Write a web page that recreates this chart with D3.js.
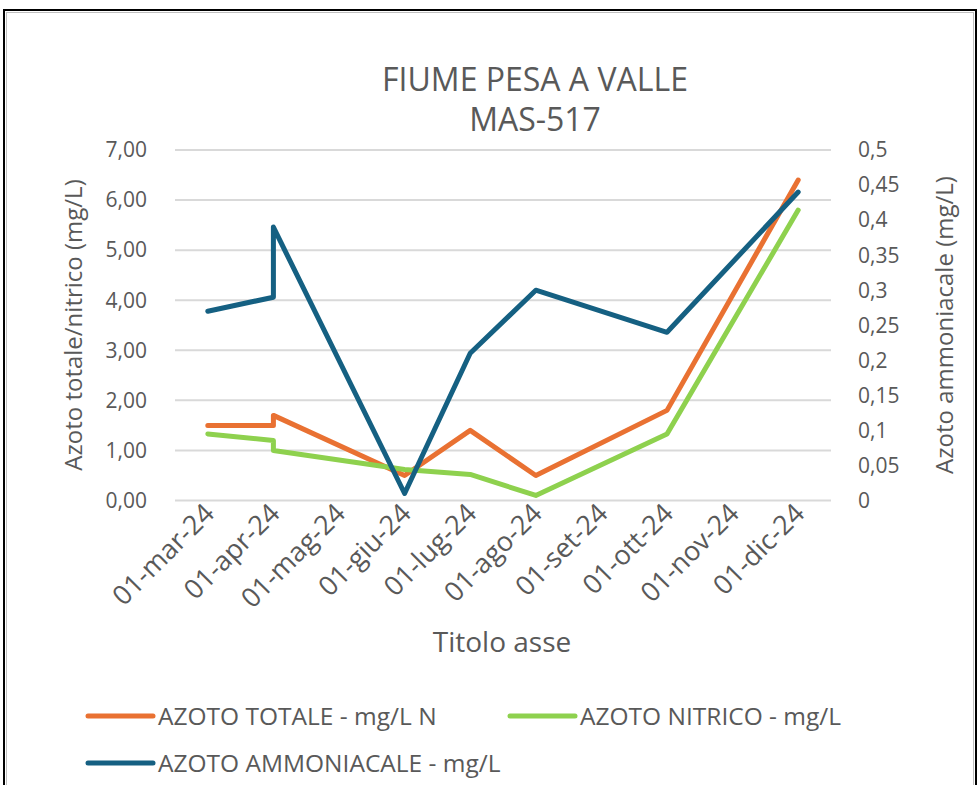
<!DOCTYPE html>
<html>
<head>
<meta charset="utf-8">
<script src="https://cdn.jsdelivr.net/npm/d3@7"></script>
<style>
  body { margin: 0; background: #fff; }
  text { font-family: "Open Sans", "Liberation Sans", sans-serif; fill: #595959; }
</style>
</head>
<body>
<svg id="chart" width="979" height="785"></svg>
<script>
// month categories on the x axis (Excel date axis, base unit = months)
const months = ["01-mar-24", "01-apr-24", "01-mag-24", "01-giu-24", "01-lug-24",
                "01-ago-24", "01-set-24", "01-ott-24", "01-nov-24", "01-dic-24"];
// sampling dates (two samples in April)
const sampleMonths = ["01-mar-24", "01-apr-24", "01-apr-24", "01-giu-24",
                      "01-lug-24", "01-ago-24", "01-ott-24", "01-dic-24"];
const azotoTotale = [1.50, 1.50, 1.70, 0.50, 1.40, 0.50, 1.80, 6.40];
const azotoNitrico = [1.33, 1.20, 1.00, 0.62, 0.52, 0.10, 1.33, 5.80];
const azotoAmmoniacale = [0.27, 0.29, 0.39, 0.01, 0.21, 0.30, 0.24, 0.44];
const leftTicks = [0, 1, 2, 3, 4, 5, 6, 7];
const rightTicks = [0, 0.05, 0.1, 0.15, 0.2, 0.25, 0.3, 0.35, 0.4, 0.45, 0.5];

const svg = d3.select("#chart");
const plot = { left: 175, right: 831, top: 150, bottom: 500.5 };

// frame
svg.append("rect").attr("x", 4).attr("y", 10).attr("width", 972).attr("height", 790)
  .style("fill", "none").style("stroke", "#000").style("stroke-width", 2);
svg.append("rect").attr("x", 6.5).attr("y", 12.5).attr("width", 967).attr("height", 790)
  .style("fill", "none").style("stroke", "#bfbfbf").style("stroke-width", 1);

let xScale = d3.scaleBand().domain(months).range([plot.left, plot.right]);
let yLeft = d3.scaleLinear().domain([0, 7]).range([plot.bottom, plot.top]);
let yRight = d3.scaleLinear().domain([0, 0.5]).range([plot.bottom, plot.top]);

const fmtLeft = d => d.toFixed(2).replace(".", ",");
const fmtRight = d => String(+d.toFixed(2)).replace(".", ",");

// gridlines
svg.selectAll(".grid").data(leftTicks).enter().append("line")
  .attr("x1", plot.left).attr("x2", plot.right)
  .attr("y1", d => yLeft(d)).attr("y2", d => yLeft(d))
  .style("stroke", "#d9d9d9").style("stroke-width", 2);

// left axis labels
svg.selectAll(".lt").data(leftTicks).enter().append("text")
  .attr("x", 147).attr("y", d => yLeft(d)).attr("dy", "0.35em")
  .style("text-anchor", "end").style("font-size", "21px")
  .text(fmtLeft);

// right axis labels
svg.selectAll(".rt").data(rightTicks).enter().append("text")
  .attr("x", 858).attr("y", d => yRight(d)).attr("dy", "0.35em")
  .style("text-anchor", "start").style("font-size", "21px")
  .text(fmtRight);

// x axis labels
svg.selectAll(".xt").data(months).enter().append("text")
  .attr("transform", d => "translate(" + (xScale(d) + xScale.bandwidth() / 2 + 8) + ",515) rotate(-45)")
  .style("text-anchor", "end").style("font-size", "27px")
  .text(d => d);

// axis titles
svg.append("text").attr("x", 502).attr("y", 652)
  .style("text-anchor", "middle").style("font-size", "28px").text("Titolo asse");
svg.append("text").attr("transform", "translate(82,325) rotate(-90)")
  .style("text-anchor", "middle").style("font-size", "24px").text("Azoto totale/nitrico (mg/L)");
svg.append("text").attr("transform", "translate(953,325) rotate(-90)")
  .style("text-anchor", "middle").style("font-size", "24px").text("Azoto ammoniacale (mg/L)");

// title
svg.append("text").attr("x", 535).attr("y", 91)
  .style("text-anchor", "middle").style("font-size", "32px").text("FIUME PESA A VALLE");
svg.append("text").attr("x", 535).attr("y", 131)
  .style("text-anchor", "middle").style("font-size", "32px").text("MAS-517");

// series
let series = [
  { name: "AZOTO TOTALE - mg/L N", values: azotoTotale, color: "#E97132", y: yLeft },
  { name: "AZOTO NITRICO - mg/L", values: azotoNitrico, color: "#8ED14E", y: yLeft },
  { name: "AZOTO AMMONIACALE - mg/L", values: azotoAmmoniacale, color: "#156082", y: yRight }
];

for (let s of series) {
  let line = d3.line()
    .x((d, i) => xScale(sampleMonths[i]) + xScale.bandwidth() / 2)
    .y(d => s.y(d));
  svg.append("path")
    .attr("d", line(s.values))
    .style("fill", "none")
    .style("stroke", s.color)
    .style("stroke-width", 5)
    .style("stroke-linejoin", "round")
    .style("stroke-linecap", "round");
}

// legend
let legendPos = [[88, 716], [510, 716], [88, 763]];
series.forEach((s, i) => {
  let p = legendPos[i];
  svg.append("line")
    .attr("x1", p[0]).attr("x2", p[0] + 65).attr("y1", p[1]).attr("y2", p[1])
    .style("stroke", s.color).style("stroke-width", 5).style("stroke-linecap", "round");
  svg.append("text").attr("x", p[0] + 70).attr("y", p[1]).attr("dy", "0.35em")
    .style("font-size", "24.5px").text(s.name);
});
</script>
</body>
</html>
